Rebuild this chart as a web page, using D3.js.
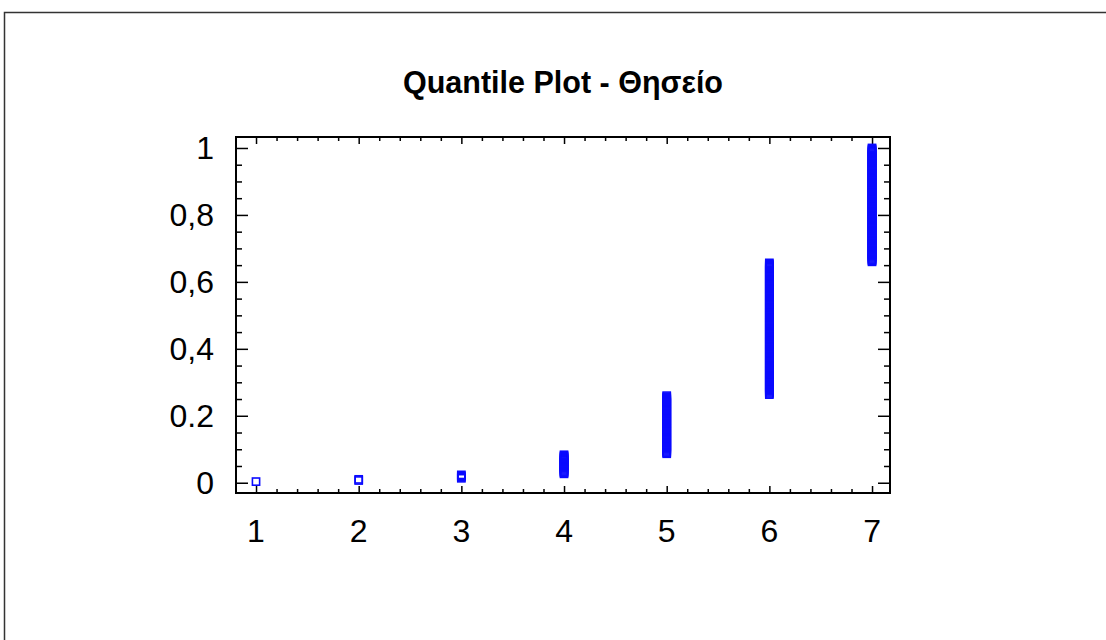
<!DOCTYPE html>
<html>
<head>
<meta charset="utf-8">
<script src="https://cdn.jsdelivr.net/npm/d3@7"></script>
<style>
  html, body { margin: 0; padding: 0; background: #fff; }
  svg { display: block; font-family: "Liberation Sans", Arial, sans-serif; }
</style>
</head>
<body>
<svg id="chart" width="1106" height="640"></svg>
<script>
// ---- data ----
const title = "Quantile Plot - Θησείο";
const categories = [1, 2, 3, 4, 5, 6, 7];          // observed values (x)
const counts = [1, 2, 4, 18, 53, 119, 103];          // number of observations per value
const xTicks = [1, 2, 3, 4, 5, 6, 7];
const xTickLabels = ["1", "2", "3", "4", "5", "6", "7"];
const yTicks = [0, 0.2, 0.4, 0.6, 0.8, 1];
const yTickLabels = ["0", "0.2", "0,4", "0,6", "0,8", "1"];

(function () {
// build quantile points: sorted observations vs cumulative fraction i/n
const n = d3.sum(counts);
const points = [];
let rank = 0;
categories.forEach((c, k) => {
  for (let j = 0; j < counts[k]; j++) {
    rank += 1;
    points.push({ x: c, p: rank / n });
  }
});

// ---- layout ----
const svg = d3.select("#chart");
const L = 236, R = 890, T = 137, B = 493;
const x = d3.scaleLinear().domain([0.805, 7.175]).range([L, R]);
const y = d3.scaleLinear().domain([-0.0307, 1.0328]).range([B, T]);

// outer frame
svg.append("rect")
  .attr("x", 4.5).attr("y", 12.5).attr("width", 1120).attr("height", 660)
  .attr("fill", "none").attr("stroke", "#333").attr("stroke-width", 1.5);

// title
svg.append("text")
  .attr("x", (L + R) / 2).attr("y", 93)
  .attr("text-anchor", "middle")
  .attr("font-size", 30.5).attr("font-weight", "bold")
  .attr("fill", "#000")
  .text(title);

// ticks
const xMinor = d3.range(1, 7.2, 0.2).filter(v => Math.abs(v - Math.round(v)) > 1e-6);
const yMinor = d3.range(0, 1.03, 0.05).filter(v => Math.abs(v * 5 - Math.round(v * 5)) > 1e-6);

const axBottom = d3.axisBottom(x).tickValues(xTicks).tickSize(-7).tickFormat("");
const axBottomMinor = d3.axisBottom(x).tickValues(xMinor).tickSize(-4).tickFormat("");
const axTop = d3.axisTop(x).tickValues(xTicks).tickSize(-7).tickFormat("");
const axTopMinor = d3.axisTop(x).tickValues(xMinor).tickSize(-4).tickFormat("");
const axLeft = d3.axisLeft(y).tickValues(yTicks).tickSize(-12).tickFormat("");
const axLeftMinor = d3.axisLeft(y).tickValues(yMinor).tickSize(-6).tickFormat("");
const axRight = d3.axisRight(y).tickValues(yTicks).tickSize(-12).tickFormat("");
const axRightMinor = d3.axisRight(y).tickValues(yMinor).tickSize(-6).tickFormat("");

function drawAxis(gen, tx, ty) {
  const g = svg.append("g").attr("transform", `translate(${tx},${ty})`).call(gen);
  g.select(".domain").remove();
  g.selectAll(".tick line").attr("stroke", "#000").attr("stroke-width", 1.5);
  return g;
}
drawAxis(axBottom, 0, B); drawAxis(axBottomMinor, 0, B);
drawAxis(axTop, 0, T); drawAxis(axTopMinor, 0, T);
drawAxis(axLeft, L, 0); drawAxis(axLeftMinor, L, 0);
drawAxis(axRight, R, 0); drawAxis(axRightMinor, R, 0);

// plot frame
svg.append("rect")
  .attr("x", L).attr("y", T).attr("width", R - L).attr("height", B - T)
  .attr("fill", "none").attr("stroke", "#000").attr("stroke-width", 2);

// tick labels
svg.append("g").selectAll("text").data(xTicks).join("text")
  .attr("x", d => x(d)).attr("y", 542)
  .attr("text-anchor", "middle").attr("font-size", 32).attr("fill", "#000")
  .text((d, i) => xTickLabels[i]);

svg.append("g").selectAll("text").data(yTicks).join("text")
  .attr("x", 214).attr("y", d => y(d)).attr("dy", "0.35em")
  .attr("text-anchor", "end").attr("font-size", 32).attr("fill", "#000")
  .text((d, i) => yTickLabels[i]);

// points (open squares)
const s = 7.2;
svg.append("g").selectAll("rect").data(points).join("rect")
  .attr("x", d => x(d.x) - s / 2).attr("y", d => y(d.p) - s / 2)
  .attr("width", s).attr("height", s)
  .attr("fill", "none").attr("stroke", "#0a0aff").attr("stroke-width", 1.6);
})();
</script>
</body>
</html>
